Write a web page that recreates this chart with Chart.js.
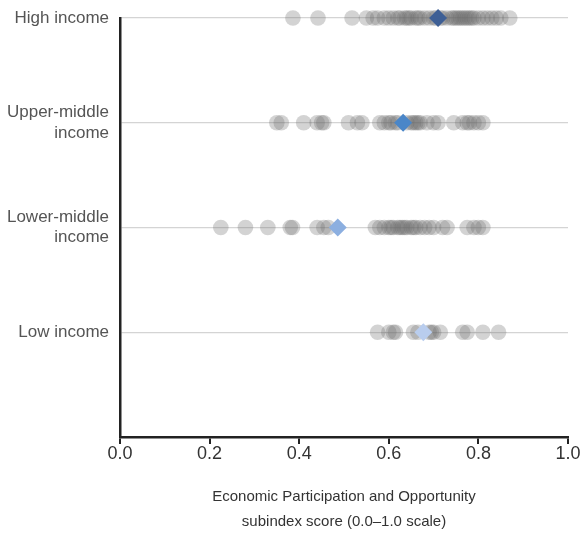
<!DOCTYPE html>
<html>
<head>
<meta charset="utf-8">
<script src="https://cdn.jsdelivr.net/npm/chart.js@4.4.1/dist/chart.umd.min.js"></script>
<style>
  html, body { margin: 0; padding: 0; background: #fff; }
  #wrap { width: 582px; height: 539px; }
</style>
</head>
<body>
<div id="wrap"><canvas id="chart" width="582" height="539"></canvas></div>
<script>
// income groups, top to bottom
const groups = ["High income", ["Upper-middle", "income"], ["Lower-middle", "income"], "Low income"];

// country scores per group
const highIncome = [0.386, 0.442, 0.518, 0.55, 0.565, 0.575, 0.59, 0.60, 0.61, 0.62, 0.625, 0.635, 0.64, 0.645,
  0.65, 0.66, 0.665, 0.67, 0.68, 0.69, 0.70, 0.705, 0.715, 0.72, 0.73, 0.74, 0.745, 0.75, 0.755, 0.76, 0.765,
  0.77, 0.775, 0.78, 0.785, 0.79, 0.80, 0.81, 0.82, 0.83, 0.84, 0.85, 0.87];
const upperMiddle = [0.35, 0.36, 0.41, 0.44, 0.45, 0.455, 0.51, 0.53, 0.54, 0.58, 0.59, 0.60, 0.605, 0.615, 0.62,
  0.64, 0.65, 0.655, 0.66, 0.665, 0.67, 0.685, 0.70, 0.71, 0.745, 0.765, 0.775, 0.78, 0.79, 0.80, 0.81];
const lowerMiddle = [0.225, 0.28, 0.33, 0.38, 0.385, 0.44, 0.455, 0.465, 0.57, 0.58, 0.59, 0.60, 0.605, 0.61,
  0.62, 0.625, 0.63, 0.635, 0.64, 0.65, 0.655, 0.66, 0.67, 0.68, 0.69, 0.70, 0.72, 0.73, 0.775, 0.79, 0.80, 0.81];
const lowIncome = [0.575, 0.60, 0.61, 0.615, 0.655, 0.665, 0.69, 0.695, 0.70, 0.715, 0.765, 0.775, 0.81, 0.845];

// group averages (diamonds)
const groupAverages = [0.71, 0.632, 0.486, 0.677];
const averageColors = ["#3e5f95", "#4a86c8", "#8cafe0", "#b9cdee"];

const xTicks = [0, 0.2, 0.4, 0.6, 0.8, 1.0];

const FONT = "'Liberation Sans', Arial, sans-serif";

const series = [highIncome, upperMiddle, lowerMiddle, lowIncome];

const datasets = [];
groupAverages.forEach((v, i) => {
  datasets.push({
    label: "Average " + i,
    data: [{ x: v, y: i }],
    pointStyle: "rectRot",
    pointRadius: 9,
    backgroundColor: averageColors[i],
    borderColor: averageColors[i],
    borderWidth: 0,
    clip: false,
    order: 0
  });
});
series.forEach((vals, i) => {
  datasets.push({
    label: "Countries " + i,
    data: vals.map(v => ({ x: v, y: i })),
    pointRadius: 7.8,
    backgroundColor: "rgba(110,110,110,0.3)",
    borderWidth: 0,
    clip: false,
    order: 1
  });
});

new Chart(document.getElementById("chart"), {
  type: "scatter",
  data: { datasets: datasets },
  options: {
    responsive: false,
    animation: false,
    layout: { padding: { top: 18, right: 14, left: 0, bottom: 0 } },
    plugins: {
      legend: { display: false },
      tooltip: { enabled: false }
    },
    scales: {
      x: {
        type: "linear",
        min: 0,
        max: 1,
        afterBuildTicks: axis => { axis.ticks = xTicks.map(v => ({ value: v })); },
        afterFit: axis => { axis.height = 102; },
        border: { color: "#222", width: 2.5 },
        grid: { drawOnChartArea: false, drawTicks: true, tickLength: 7, color: "#222", lineWidth: 2 },
        ticks: {
          padding: -1,
          color: "#333",
          font: { family: FONT, size: 18 },
          callback: v => v.toFixed(1)
        },
        title: {
          display: true,
          text: ["Economic Participation and Opportunity", "subindex score (0.0\u20131.0 scale)"],
          color: "#333",
          font: { family: FONT, size: 15, lineHeight: 1.65 },
          padding: { top: 0, bottom: 5 }
        }
      },
      y: {
        type: "linear",
        reverse: true,
        min: 0,
        max: 4,
        afterBuildTicks: axis => { axis.ticks = [0, 1, 2, 3, 4].map(v => ({ value: v })); },
        afterFit: axis => {
          axis.width = 120;
          axis.paddingTop = 0;
          axis.paddingBottom = 0;
        },
        border: { color: "#222", width: 2.5 },
        grid: {
          drawTicks: false,
          color: ctx => (ctx.tick && ctx.tick.value < 4 ? "#d4d4d4" : "rgba(0,0,0,0)"),
          lineWidth: 1.2
        },
        ticks: {
          padding: 11,
          color: "#555",
          font: { family: FONT, size: 17, lineHeight: 1.2 },
          callback: v => (v < groups.length ? groups[v] : "")
        }
      }
    }
  }
});
</script>
</body>
</html>
